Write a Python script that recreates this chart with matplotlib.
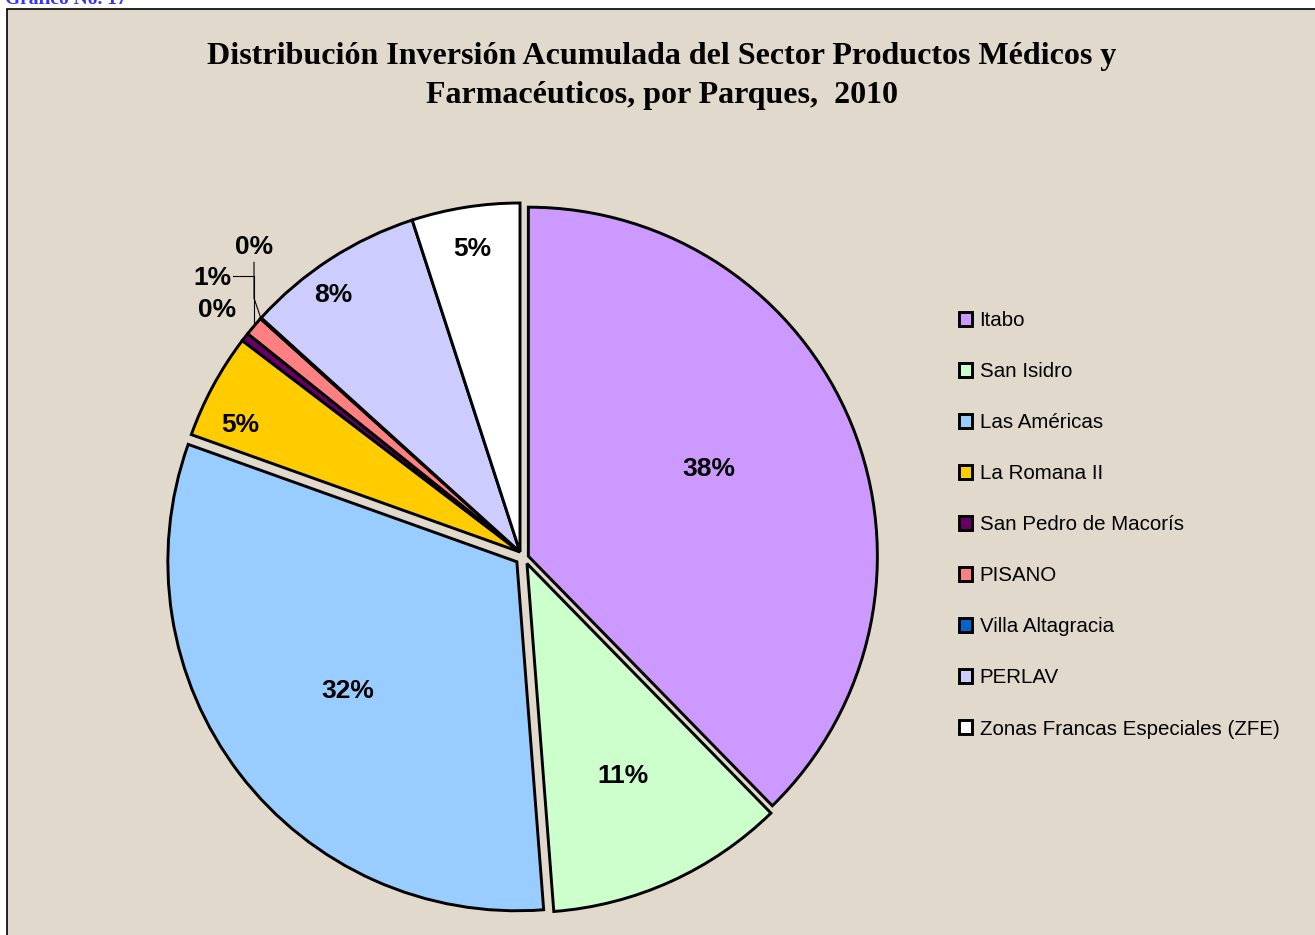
import numpy as np
import matplotlib
matplotlib.use("Agg")
import matplotlib.pyplot as plt
from matplotlib.patches import Rectangle

parques = ["Itabo", "San Isidro", "Las Américas", "La Romana II",
           "San Pedro de Macorís", "PISANO", "Villa Altagracia", "PERLAV",
           "Zonas Francas Especiales (ZFE)"]
inversion = [37.7, 11.1, 31.7, 4.9, 0.4, 0.9, 0.05, 8.3, 5.0]
etiquetas = ["38%", "11%", "32%", "5%", "0%", "1%", "0%", "8%", "5%"]
colores = ["#CC99FF", "#CCFFCC", "#99CCFF", "#FFCC00", "#660066",
           "#FF8080", "#0066CC", "#CCCCFF", "#FFFFFF"]

# wedge shifts (in pie radii) for the separated slices
shift = {0: (0.024, -0.012), 1: (0.02, -0.033), 2: (-0.009, -0.028)}

# label placement: distance from centre, angular shift (deg, clockwise)
lab_dist = [0.575, 0.67, 0.61, 0.88, 1.11, 1.18, 1.16, 0.91, 0.88]
lab_shift = [-3.5, 0, 0, -4, 0.6, 1.4, 6.8, -3, 0]

W, H = 1315, 935
fig = plt.figure(figsize=(W / 100, H / 100), dpi=100)
fig.patch.set_facecolor("white")

bg = "#E1D9CC"
frame = Rectangle((7 / W, -0.05), 1.1, 1 - 9 / H + 0.05, transform=fig.transFigure,
                  facecolor=bg, edgecolor="black", linewidth=1.2, zorder=-5)
fig.patches.append(frame)

fig.text(0.004, 1 - 4 / H, "Gráfico No. 17", color="#3333FF", fontsize=14,
         fontweight="bold", family="Liberation Serif", va="baseline", ha="left")

fig.text(662 / W, 1 - 76 / H,
         "Distribución Inversión Acumulada del Sector Productos Médicos y\n"
         "Farmacéuticos, por Parques,  2010",
         ha="center", va="center", fontsize=23, fontweight="bold",
         family="Liberation Serif", linespacing=1.42)

cx, cy, R = 520, 552, 349
half = 1.1 * R
ax = fig.add_axes([(cx - half) / W, (H - cy - half) / H, 2 * half / W, 2 * half / H])
ax.set_zorder(2)
ax.patch.set_visible(False)

wedges, _ = ax.pie(inversion, colors=colores, startangle=90,
                   counterclock=False,
                   wedgeprops=dict(edgecolor="black", linewidth=2.1))
for i, (sx, sy) in shift.items():
    wedges[i].set_center((sx, sy))
ax.set_xlim(-1.1, 1.1)
ax.set_ylim(-1.1, 1.1)
ax.set_aspect("equal")
ax.axis("off")

for w, txt, d, s in zip(wedges, etiquetas, lab_dist, lab_shift):
    mid = np.deg2rad((w.theta1 + w.theta2) / 2 - s)
    x0, y0 = w.center
    ax.text(x0 + d * np.cos(mid), y0 + d * np.sin(mid), txt, ha="center",
            va="center", fontsize=19, fontweight="bold", family="Liberation Sans")

# leader lines for the tiny slices
def edge_point(w):
    m = np.deg2rad((w.theta1 + w.theta2) / 2)
    return np.cos(m), np.sin(m)

ex, ey = edge_point(wedges[5])
ly = 0.791
ax.plot([ex, ex, ex - 0.06], [ey, ly, ly], color="black", lw=0.8)
vx, vy = edge_point(wedges[6])
ax.plot([vx, ex, ex], [vy, ey + 0.08, 0.83], color="black", lw=0.8)

fig.legend(wedges, parques, loc="upper left",
           bbox_to_anchor=(959 / W, 1 - 311 / H), frameon=False,
           prop=dict(family="Liberation Sans", size=14.8),
           labelspacing=1.56, handlelength=0.65, handleheight=0.65,
           handletextpad=0.35, borderpad=0, borderaxespad=0)

fig.savefig("out.png", dpi=100, facecolor=fig.get_facecolor())
